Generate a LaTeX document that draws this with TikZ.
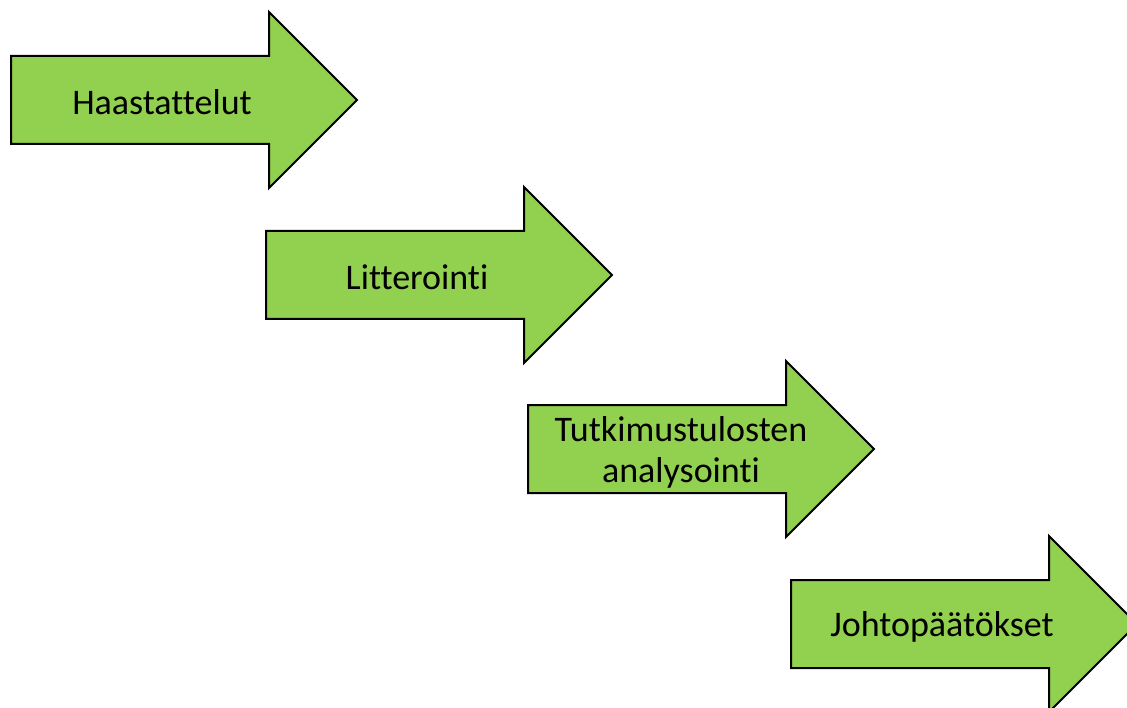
\documentclass[tikz,border=0pt]{standalone}
\usepackage{fontspec}
\setmainfont[Ligatures=NoCommon]{Carlito}
\definecolor{stepgreen}{HTML}{92D050}
\begin{document}
\begin{tikzpicture}[x=1pt,y=-1pt,
  steparrow/.style={fill=stepgreen,draw=black,line width=2pt,line join=miter},
  steplabel/.style={font=\fontsize{36}{41}\selectfont,align=center,text=black,inner sep=0pt}]
\useasboundingbox (0,0) rectangle (1127,708);
\clip (0,0) rectangle (1127,708);
% block arrows: left edge, centre line
\foreach \lx/\cy in {11/100, 266/275, 528/449, 791/624}{
  \draw[steparrow] (\lx,\cy-44) -- ++(258,0) -- ++(0,-44) -- ++(88,88)
    -- ++(-88,88) -- ++(0,-44) -- ++(-258,0) -- cycle;
}
\node[steplabel] (haast) at (162,102) {Haastattelut};
\node[steplabel] (litt) at (417,277) {Litterointi};
\node[steplabel] (anal) at (681,452) {Tutkimustulosten\\analysointi};
\node[steplabel] (johto) at (942,627) {Johtopäätökset};
\end{tikzpicture}
\end{document}
